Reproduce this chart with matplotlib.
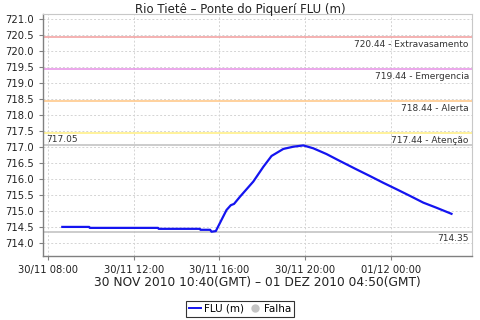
import numpy as np
import matplotlib
matplotlib.use('Agg')
import matplotlib.pyplot as plt
import matplotlib.dates as mdates
from matplotlib.lines import Line2D
from datetime import datetime

#-------------------------------------------------------------------------
# data (local time, GMT-2)
times = ['30/11/2010 08:40', '30/11/2010 09:55', '30/11/2010 09:57', '30/11/2010 13:08',
         '30/11/2010 13:10', '30/11/2010 15:05', '30/11/2010 15:07', '30/11/2010 15:34',
         '30/11/2010 15:38', '30/11/2010 15:50', '30/11/2010 16:20', '30/11/2010 16:32',
         '30/11/2010 16:41', '30/11/2010 16:58', '30/11/2010 17:35', '30/11/2010 18:03',
         '30/11/2010 18:26', '30/11/2010 18:59', '30/11/2010 19:27', '30/11/2010 19:55',
         '30/11/2010 20:23', '30/11/2010 21:00', '30/11/2010 21:38', '30/11/2010 22:24',
         '30/11/2010 23:02', '30/11/2010 23:39', '01/12/2010 00:16', '01/12/2010 00:54',
         '01/12/2010 01:31', '01/12/2010 02:08', '01/12/2010 02:50']
levels = [714.50, 714.50, 714.47, 714.47,
          714.44, 714.44, 714.41, 714.41,
          714.35, 714.37, 715.03, 715.18,
          715.22, 715.45, 715.92, 716.38,
          716.72, 716.94, 717.01, 717.05,
          716.96, 716.78, 716.56, 716.30,
          716.09, 715.88, 715.68, 715.47,
          715.26, 715.10, 714.91]

limitValues = [720.44, 719.44, 718.44, 717.44]
limitNames = ['Extravasamento', 'Emergencia', 'Alerta', 'Atenção']
limitColors = ['#f2a4a4', '#e898e8', '#ffc98c', '#fff08a']

maxLevel = 717.05
minLevel = 714.35

title = 'Rio Tietê – Ponte do Piquerí FLU (m)'
xLabel = '30 NOV 2010 10:40(GMT) – 01 DEZ 2010 04:50(GMT)'

#-------------------------------------------------------------------------
def main():
  dates = [datetime.strptime(t, '%d/%m/%Y %H:%M') for t in times]

  fig = plt.figure(figsize=(4.8, 3.2), dpi=100)
  ax = fig.add_axes([0.0896, 0.2, 0.8934, 0.756])

  ax.grid(True, color='#d4d4d4', linestyle=(0, (2, 2)), linewidth=0.7)
  ax.set_axisbelow(True)

  #---- alert levels
  for val, name, col in zip(limitValues, limitNames, limitColors):
    ax.axhline(val, color=col, linewidth=1.2)
    ax.text(0.993, val - 0.08, '%.2f - %s' % (val, name), transform=ax.get_yaxis_transform(),
            ha='right', va='top', fontsize=6.5, color='#333333')

  #---- max / min markers
  ax.axhline(maxLevel, color='#c4c4c4', linewidth=1.2)
  ax.text(0.008, maxLevel + 0.04, '%.2f' % maxLevel, transform=ax.get_yaxis_transform(),
          ha='left', va='bottom', fontsize=6.5, color='#333333')
  ax.axhline(minLevel, color='#c4c4c4', linewidth=1.2)
  ax.text(0.993, minLevel - 0.08, '%.2f' % minLevel, transform=ax.get_yaxis_transform(),
          ha='right', va='top', fontsize=6.5, color='#333333')

  ax.plot(dates, levels, color='#1414f0', linewidth=1.6)

  ax.set_ylim(713.59, 721.16)
  ax.set_yticks(np.arange(714.0, 721.01, 0.5))
  ax.yaxis.set_major_formatter(plt.FormatStrFormatter('%.1f'))
  ax.set_xlim(datetime(2010, 11, 30, 7, 46), datetime(2010, 12, 1, 3, 47))
  ax.xaxis.set_major_locator(mdates.HourLocator(byhour=[0, 4, 8, 12, 16, 20]))
  ax.xaxis.set_major_formatter(mdates.DateFormatter('%d/%m %H:%M'))

  ax.tick_params(labelsize=7.2, colors='#222222', length=3, width=0.8)
  ax.tick_params(color='#808080')
  for side in ['top', 'right']:
    ax.spines[side].set_color('#c8c8c8')
  for side in ['left', 'bottom']:
    ax.spines[side].set_color('#808080')
    ax.spines[side].set_linewidth(1.0)

  fig.text(0.5, 0.970, title, ha='center', va='center', fontsize=8.5, color='#222222')
  fig.text(0.5365, 0.118, xLabel, ha='center', va='center', fontsize=8.8, color='#222222')

  #---- legend
  handles = [Line2D([], [], color='#1414f0', linewidth=1.4),
             Line2D([], [], color='#c4c4c4', marker='o', linestyle='none', markersize=5)]
  leg = fig.legend(handles, ['FLU (m)', 'Falha'], loc='center', bbox_to_anchor=(0.5, 0.0345),
                   ncol=2, fontsize=7.5, frameon=True, fancybox=False, handlelength=1.2,
                   handletextpad=0.3, columnspacing=0.4, borderpad=0.25, borderaxespad=0)
  leg.get_frame().set_edgecolor('black')
  leg.get_frame().set_linewidth(0.8)

  fig.savefig('out.png', dpi=100)

if __name__ == "__main__":
  main()
